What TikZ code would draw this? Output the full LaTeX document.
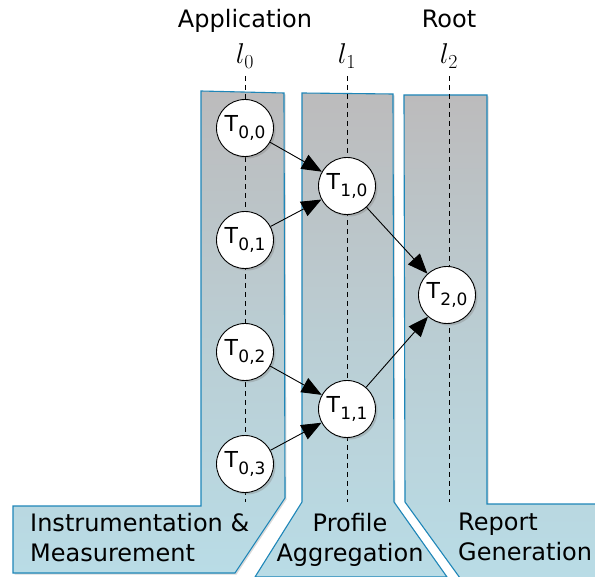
\documentclass[tikz,border=0pt]{standalone}
\usepackage{fontspec}
\setmainfont{DejaVu Sans}
\usetikzlibrary{arrows.meta,shadows}
\definecolor{edgeblue}{HTML}{1E86B8}
\definecolor{topgray}{HTML}{BCBBBC}
\definecolor{botblue}{HTML}{B9DCE6}
\newcommand{\tsk}[1]{T\kern0.5pt\raisebox{-7pt}{\fontsize{17}{17}\selectfont #1}}
\begin{document}
\begin{tikzpicture}[x=1pt,y=-1pt,
  lane/.style={draw=edgeblue,line width=1.1pt,top color=topgray,bottom color=botblue,middle color=botblue!55!topgray,drop shadow={shadow xshift=1.5pt,shadow yshift=-1.5pt,opacity=0.3}},
  task/.style={circle,draw=black,fill=white,line width=0.9pt,minimum size=57pt,inner sep=0pt,font=\fontsize{22}{22}\selectfont,drop shadow={shadow xshift=2pt,shadow yshift=-2pt,opacity=0.35}},
  conn/.style={-{Triangle[length=20pt,width=16pt]},line width=0.9pt},
  guide/.style={line width=0.9pt,dash pattern=on 5pt off 4pt},
  head/.style={font=\fontsize{24}{24}\selectfont,anchor=base},
  lvl/.style={font=\fontsize{26}{26}\selectfont,anchor=base},
  lab/.style={font=\fontsize{24}{30}\selectfont,align=left,anchor=north west,inner sep=0pt}]
\useasboundingbox (0,0) rectangle (595,577);
% lanes
\path[lane] (201,91) -- (284,93) -- (285,498) -- (235,573) -- (13,573) -- (13,506) -- (201,506) -- cycle;
\path[lane] (302,93) -- (393,94) -- (394,502) -- (447,577) -- (255,577) -- (302,502) -- cycle;
\path[lane] (404,95) -- (487,95) -- (487,504) -- (597,504) -- (597,578) -- (460,578) -- (405,502) -- cycle;
% headers
\node[head] (app) at (245,28) {Application};
\node[head] (root) at (449,28) {Root};
\node[lvl] (l0) at (245,64) {\scalebox{1.15}{$l_0$}};
\node[lvl] (l1) at (347,64) {\scalebox{1.15}{$l_1$}};
\node[lvl] (l2) at (449,64) {\scalebox{1.15}{$l_2$}};
% guide lines
\coordinate (g0t) at (245,76); \coordinate (g0b) at (245,502);
\coordinate (g1t) at (347,76); \coordinate (g1b) at (347,502);
\coordinate (g2t) at (449,76); \coordinate (g2b) at (449,502);
\draw[guide] (g0t) -- (g0b);
\draw[guide] (g1t) -- (g1b);
\draw[guide] (g2t) -- (g2b);
% tasks
\node[task] (t00) at (245,128) {\tsk{0,0}};
\node[task] (t01) at (245,240) {\tsk{0,1}};
\node[task] (t02) at (245,352) {\tsk{0,2}};
\node[task] (t03) at (245,464) {\tsk{0,3}};
\node[task] (t10) at (347,186) {\tsk{1,0}};
\node[task] (t11) at (347,409) {\tsk{1,1}};
\node[task] (t20) at (447,295) {\tsk{2,0}};
% connectors
\draw[conn] (t00) -- (t10);
\draw[conn] (t01) -- (t10);
\draw[conn] (t02) -- (t11);
\draw[conn] (t03) -- (t11);
\draw[conn] (t10) -- (t20);
\draw[conn] (t11) -- (t20);
% labels
\node[lab] (im) at (30,513) {Instrumentation \&\\Measurement};
\node[lab,align=center,anchor=north] (pa) at (350,513) {Profile\\Aggregation};
\node[lab] (rg) at (458,513) {Report\\Generation};
\end{tikzpicture}
\end{document}
